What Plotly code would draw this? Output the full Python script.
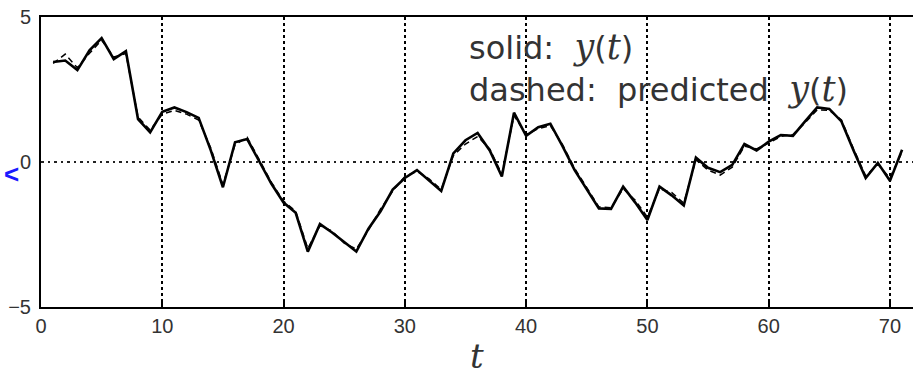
import plotly.graph_objects as go

t = list(range(1, 72))
y_solid = [3.45, 3.5, 3.17, 3.85, 4.27, 3.55, 3.82, 1.48, 1.02, 1.73,
           1.88, 1.72, 1.52, 0.40, -0.87, 0.68, 0.79, 0.0, -0.75, -1.4,
           -1.75, -3.09, -2.14, -2.43, -2.75, -3.09, -2.3, -1.7, -0.95, -0.55,
           -0.28, -0.65, -1.0, 0.3, 0.75, 1.0, 0.4, -0.5, 1.7, 0.9,
           1.2, 1.32, 0.55, -0.28, -0.95, -1.6, -1.62, -0.85, -1.4, -2.0,
           -0.85, -1.15, -1.5, 0.15, -0.2, -0.35, -0.1, 0.62, 0.4, 0.7,
           0.93, 0.9, 1.4, 1.88, 1.83, 1.4, 0.4, -0.55, -0.03, -0.65,
           0.42]
y_pred = [3.40, 3.72, 3.25, 3.75, 4.20, 3.62, 3.74, 1.55, 1.10, 1.65,
          1.78, 1.65, 1.45, 0.48, -0.78, 0.60, 0.85, 0.05, -0.70, -1.35,
          -1.70, -2.98, -2.20, -2.38, -2.80, -3.00, -2.35, -1.62, -1.00, -0.50,
          -0.32, -0.58, -0.95, 0.22, 0.62, 0.88, 0.45, -0.42, 1.60, 0.95,
          1.15, 1.25, 0.60, -0.22, -0.90, -1.55, -1.58, -0.92, -1.32, -1.90,
          -0.92, -1.05, -1.42, 0.08, -0.28, -0.45, -0.18, 0.55, 0.45, 0.65,
          0.88, 0.95, 1.35, 1.80, 1.78, 1.45, 0.45, -0.48, -0.08, -0.55,
          0.35]
x_ticks = [0, 10, 20, 30, 40, 50, 60, 70]
y_ticks = [-5, 0, 5]
y_tick_text = ["\u22125", "0", "5"]

fig = go.Figure()
fig.add_trace(go.Scatter(x=t, y=y_pred, mode="lines",
                         line=dict(color="black", width=1.5, dash="6px,4px"),
                         showlegend=False))
fig.add_trace(go.Scatter(x=t, y=y_solid, mode="lines",
                         line=dict(color="black", width=2.6),
                         showlegend=False))

fig.update_layout(
    width=913, height=377,
    margin=dict(l=41, r=0, t=17, b=70),
    paper_bgcolor="white", plot_bgcolor="white",
    font=dict(family="Liberation Sans, Arial, sans-serif", size=20, color="#333"),
)
fig.update_xaxes(
    range=[0, 71.9], tickvals=x_ticks, ticktext=[str(v) for v in x_ticks],
    showgrid=True, gridcolor="black", griddash="dot", gridwidth=1.5,
    showline=True, linecolor="black", linewidth=2, mirror=True,
    ticks="inside", ticklen=6, tickcolor="black", tickwidth=1.5,
    zeroline=False, tickfont=dict(size=20, color="#333"),
)
fig.update_yaxes(
    range=[-5, 5], tickvals=y_ticks, ticktext=y_tick_text,
    showgrid=True, gridcolor="#222", griddash="3px,4px,2px,4px", gridwidth=1.5,
    showline=True, linecolor="black", linewidth=2,
    ticks="", zeroline=False, tickfont=dict(size=20, color="#333"),
    ticklabelstandoff=4,
)

serif = "font-family:'DejaVu Serif', 'Liberation Serif', serif; font-style:italic; font-size:35px"
sans = "DejaVu Sans, Liberation Sans, sans-serif"
yt = "<span style=\"" + serif + "\">y</span>(<span style=\"" + serif + "\">t</span>)"
fig.add_annotation(xref="paper", yref="paper", x=(467 - 41) / 872, y=(307 - 68) / 290,
                   xanchor="left", yanchor="middle", showarrow=False, align="left",
                   text="solid:  " + yt + "<br>dashed:  predicted  " + yt,
                   font=dict(size=32, color="#333", family=sans))
fig.add_annotation(xref="paper", yref="paper", x=0.5, y=-(356 - 307) / 290,
                   xanchor="center", yanchor="middle", showarrow=False,
                   text="<i>t</i>",
                   font=dict(size=34, color="#333", family="DejaVu Serif, Liberation Serif, serif"))
# blue mark at left edge
fig.add_annotation(xref="paper", yref="paper", x=-30 / 872, y=(307 - 174) / 290,
                   xanchor="center", yanchor="middle", showarrow=False,
                   text="<b>&lt;</b>",
                   font=dict(size=26, color="#1a1aff", family="Liberation Sans, Arial, sans-serif"))

fig.write_html("out.html")
